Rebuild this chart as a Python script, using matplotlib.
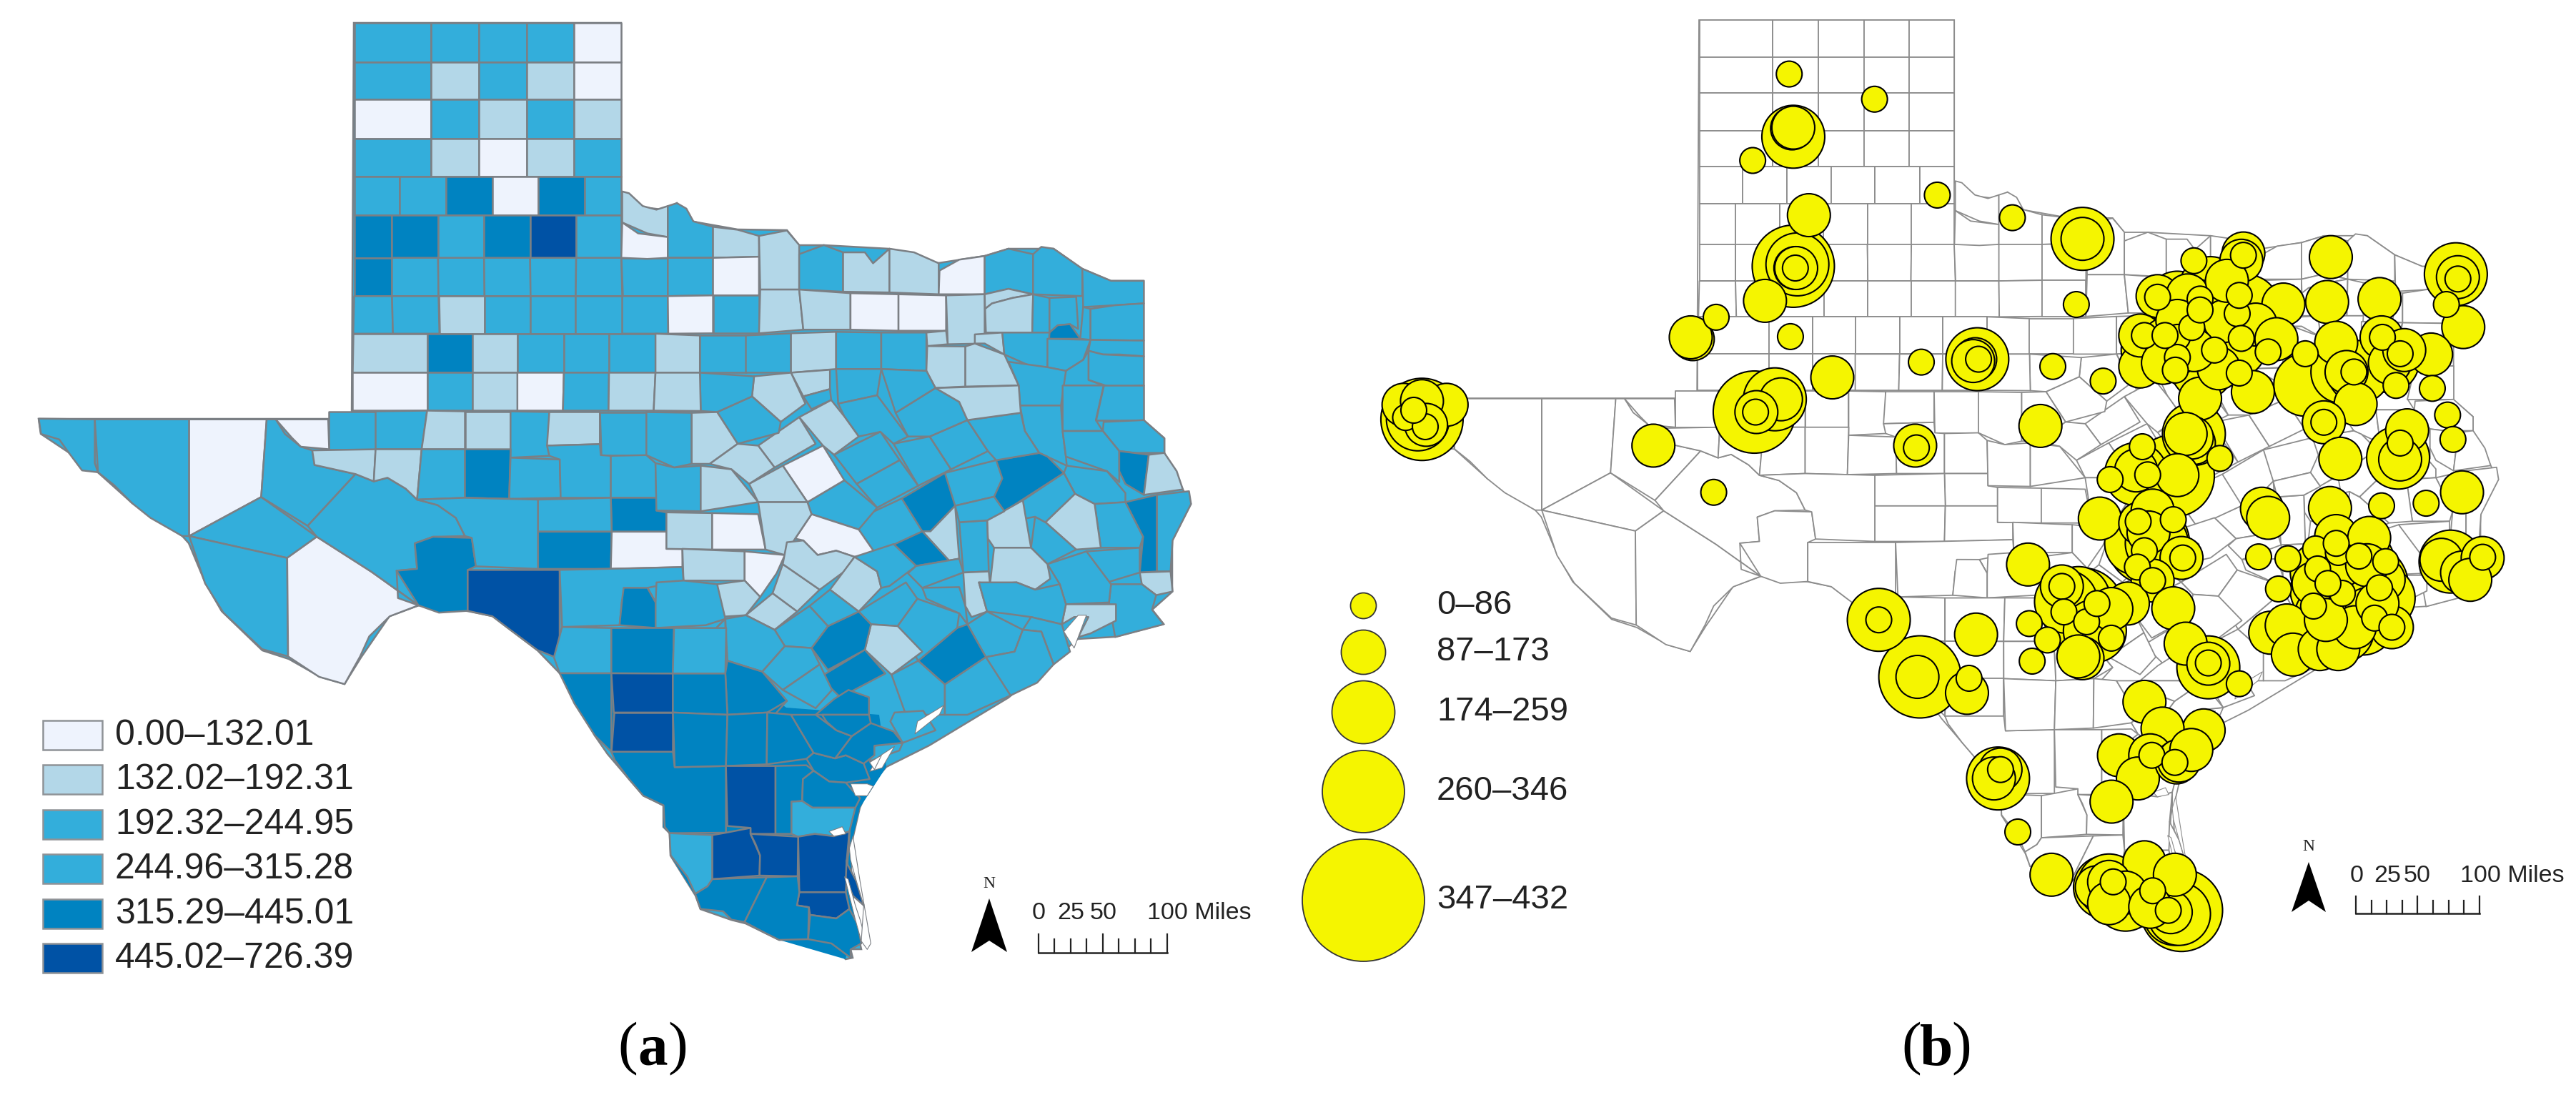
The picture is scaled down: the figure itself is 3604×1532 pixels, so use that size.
"""
Dos mapas de condados de Texas: (a) coropletas y (b) circulos proporcionales.
Las coordenadas de los mapas se leyeron de recortes de la imagen; cada lista
guarda los puntos en el marco de su recorte y FRAMES los lleva a pixeles.
"""
import matplotlib
matplotlib.use('Agg')
import matplotlib.pyplot as plt
from matplotlib.collections import PolyCollection
from matplotlib.patches import Polygon, Rectangle

plt.rcParams['font.family'] = ['Liberation Sans', 'DejaVu Sans']

# clases: 0-5 como en la leyenda
CLASS_COLORS = ['#EEF3FD', '#B3D7E8', '#33AEDB', '#33AEDB', '#0083C1', '#0052A5']
LEGEND_A = ['0.00–132.01', '132.02–192.31', '192.32–244.95',
            '244.96–315.28', '315.29–445.01', '445.02–726.39']
LEGEND_B = ['0–86', '87–173', '174–259', '260–346', '347–432']
LEGEND_B_DIAM = [36, 62, 88, 115, 171]

A, B, C, D = 36, 60, 88, 115

# (ox, oy, sx, sy) de cada recorte
FRAMES = {'z1': (0, 0, 1.568, 1.96), 'z2': (900, 200, 1.742, 1.96),
          'z3': (0, 750, 0.871, 2.005), 'z4': (1800, 0, 1.742, 1.96),
          'z5': (2700, 250, 1.7326, 1.96), 'z6': (1800, 750, 0.869, 2.005),
          'z7': (850, 1000, 3, 3)}

STATE_OUTLINE = [(495, 32), (869, 32), (869, 270), (900, 290), (934, 294), (947, 284), (970, 310),
                 (1032, 321), (1101, 322), (1118, 343), (1153, 343), (1244, 348), (1313, 368),
                 (1378, 358), (1411, 348), (1474, 348), (1514, 376), (1554, 393), (1600, 393),
                 (1600, 588), (1629, 613), (1629, 634), (1655, 685), (1666, 705), (1640, 756),
                 (1640, 828), (1612, 853), (1628, 873), (1560, 891), (1508, 894), (1411, 976),
                 (1300, 1043), (1240, 1073), (1217, 1100), (1203, 1130), (1193, 1173), (1190, 1200),
                 (1195, 1283), (1205, 1328), (1190, 1328), (1193, 1340), (1183, 1342), (1163, 1320),
                 (1133, 1315), (1090, 1315), (1043, 1292), (1023, 1287), (980, 1272), (973, 1253),
                 (938, 1197), (937, 1166), (928, 1157), (928, 1127), (900, 1113), (880, 1090),
                 (850, 1055), (832, 1029), (786, 945), (752, 910),
                 (689, 862), (654, 855), (586, 847), (545, 862), (505, 920), (482, 957), (448, 947),
                 (404, 922), (367, 910), (310, 855), (287, 815), (264, 760), (255, 750), (185, 704),
                 (137, 661), (96, 633), (57, 607), (54, 586), (492, 586)]

# relleno bajo los condados del sur (clase 4)
SOUTH_BASE = [(790, 945), (1016, 930), (1100, 990), (1230, 1000), (1240, 1073), (1203, 1130), (1193, 1173),
              (1190, 1200), (1195, 1283), (1183, 1342), (1090, 1315), (973, 1253), (938, 1197), (937, 1166),
              (928, 1157), (928, 1127), (900, 1113), (880, 1090)]

# filas de rectangulos del Panhandle: y0, y1, bordes x, clases
ROWS_Z1 = [
    (62, 170, [777, 946, 1050, 1155, 1259, 1363], [2, 2, 2, 2, 0]),
    (170, 273, [777, 946, 1050, 1155, 1259, 1363], [2, 1, 2, 1, 0]),
    (273, 380, [777, 946, 1050, 1155, 1259, 1363], [0, 2, 1, 2, 1]),
    (380, 484, [777, 946, 1050, 1155, 1259, 1363], [2, 1, 0, 1, 2]),
    (484, 590, [777, 876, 978, 1080, 1180, 1283, 1363], [2, 2, 4, 0, 4, 2]),
    (590, 707, [777, 860, 961, 1062, 1163, 1264, 1363], [4, 4, 2, 4, 5, 2]),
    (707, 812, [777, 860, 962, 1063, 1164, 1263, 1365, 1465], [4, 2, 2, 2, 2, 2, 2]),
    (812, 915, [775, 862, 964, 1063, 1164, 1263, 1365, 1466], [2, 2, 1, 2, 2, 2, 2]),
    (915, 1022, [773, 937, 1037, 1135, 1237, 1336, 1438], [1, 4, 1, 2, 2, 2]),
    (1022, 1126, [773, 937, 1037, 1135, 1235, 1335, 1434], [0, 2, 1, 0, 2, 1]),
    (1128, 1232, [722, 824, 925, 1020, 1120], [2, 2, 1, 1]),
]

COUNTIES_Z1 = [
    (1, [(1365, 525), (1380, 530), (1410, 565), (1440, 575), (1465, 565), (1465, 650), (1420, 640), (1365, 610)]),
    (0, [(1357, 612), (1400, 640), (1465, 652), (1465, 720), (1420, 710), (1357, 705)]),
    (2, [(85, 1148), (208, 1150), (208, 1270), (215, 1295), (180, 1290), (150, 1240), (130, 1205), (90, 1190)]),
    (2, [(210, 1150), (415, 1150), (415, 1470), (400, 1470), (330, 1420), (290, 1380), (250, 1330), (215, 1295)]),
    (0, [(418, 1150), (585, 1150), (573, 1363), (415, 1465)]),
    (2, [(410, 1475), (573, 1365), (695, 1472), (630, 1530)]),
    (2, [(585, 1150), (605, 1150), (625, 1190), (660, 1225), (685, 1235), (690, 1275), (780, 1300), (675, 1442), (575, 1360)]),
    (0, [(605, 1150), (720, 1150), (720, 1228), (670, 1228), (640, 1200)]),
    (2, [(415, 1480), (630, 1532), (632, 1800), (575, 1780), (490, 1680), (450, 1600)]),
    (0, [(632, 1533), (700, 1475), (815, 1568), (918, 1660), (855, 1690), (810, 1745), (790, 1800), (756, 1876), (700, 1856), (632, 1805)]),
    (2, [(680, 1445), (780, 1305), (820, 1320), (850, 1310), (890, 1340), (915, 1370), (960, 1385), (1000, 1420), (1020, 1470), (950, 1472), (910, 1490), (915, 1560), (870, 1565), (873, 1640), (918, 1660), (815, 1568), (700, 1475)]),
    (4, [(873, 1563), (918, 1563), (918, 1485), (954, 1470), (1035, 1475), (1044, 1553), (1026, 1563), (1026, 1675), (963, 1680), (918, 1660)]),
    (2, [(1120, 1130), (1205, 1130), (1205, 1250), (1120, 1255)]),
    (1, [(1207, 1130), (1316, 1130), (1316, 1218), (1200, 1222)]),
    (2, [(1318, 1130), (1418, 1130), (1418, 1248), (1318, 1248)]),
    (1, [(690, 1235), (828, 1235), (828, 1315), (780, 1298), (695, 1280)]),
    (1, [(832, 1235), (915, 1235), (917, 1365), (880, 1330), (850, 1310), (832, 1318)]),
    (2, [(918, 1235), (1020, 1235), (1020, 1365), (918, 1365)]),
    (4, [(1022, 1235), (1117, 1235), (1117, 1368), (1022, 1368)]),
    (2, [(1120, 1260), (1228, 1260), (1230, 1365), (1120, 1365)]),
    (2, [(1198, 1225), (1318, 1225), (1318, 1250), (1340, 1250), (1340, 1365), (1232, 1365), (1230, 1258), (1198, 1255)]),
    (2, [(1342, 1250), (1420, 1250), (1438, 1270), (1440, 1365), (1342, 1365)]),
    (4, [(1342, 1370), (1440, 1370), (1440, 1400), (1462, 1405), (1462, 1458), (1342, 1458)]),
    (2, [(1180, 1370), (1340, 1370), (1340, 1458), (1180, 1458)]),
    (4, [(1180, 1462), (1340, 1462), (1340, 1560), (1180, 1560)]),
    (0, [(1342, 1462), (1462, 1462), (1462, 1505), (1497, 1505), (1497, 1555), (1342, 1555)]),
    (2, [(1020, 1370), (1178, 1370), (1178, 1560), (1045, 1560), (1045, 1475), (1020, 1470), (1000, 1420), (960, 1390), (920, 1370)]),
]

COUNTIES_Z2 = [
    (2, [(60, 315), (60, 185), (82, 165), (105, 180), (122, 215), (170, 230), (170, 315)]),
    (1, [(172, 312), (172, 232), (230, 238), (282, 255), (282, 312)]),
    (1, [(285, 402), (285, 245), (350, 240), (380, 280), (380, 402)]),
    (2, [(380, 408), (380, 305), (440, 280), (487, 300), (487, 408)]),
    (1, [(487, 410), (487, 315), (540, 300), (560, 330), (600, 290), (600, 410)]),
    (1, [(603, 412), (603, 290), (660, 300), (720, 330), (720, 415)]),
    (0, [(722, 430), (722, 350), (770, 320), (832, 310), (832, 415)]),
    (2, [(835, 400), (835, 310), (890, 290), (950, 305), (950, 415), (890, 400)]),
    (2, [(952, 420), (952, 300), (970, 285), (1000, 290), (1070, 345), (1070, 420)]),
    (2, [(1072, 450), (1072, 350), (1140, 378), (1220, 378), (1220, 440), (1150, 445)]),
    (2, [(60, 315), (170, 315), (170, 418), (60, 418)]),
    (0, [(172, 315), (282, 315), (282, 418), (172, 418)]),
    (0, [(60, 420), (170, 420), (170, 522), (60, 522)]),
    (2, [(172, 420), (282, 420), (282, 522), (172, 522)]),
    (1, [(285, 405), (390, 405), (390, 512), (285, 512)]),
    (1, [(392, 412), (505, 412), (505, 512), (392, 512)]),
    (0, [(505, 415), (622, 415), (622, 515), (505, 515)]),
    (0, [(625, 418), (738, 418), (738, 515), (625, 515)]),
    (1, [(742, 430), (830, 420), (832, 550), (742, 552)]),
    (1, [(833, 455), (833, 405), (880, 400), (948, 420), (900, 425), (850, 440)]),
    (1, [(835, 462), (850, 445), (900, 430), (948, 428), (948, 520), (835, 520)]),
    (2, [(953, 425), (990, 425), (990, 520), (953, 520)]),
    (2, [(990, 422), (1055, 422), (1060, 510), (1040, 497), (1010, 500), (988, 535)]),
    (4, [(985, 537), (988, 510), (1015, 497), (1040, 500), (1065, 537)]),
    (2, [(1060, 440), (1090, 455), (1090, 540), (1065, 537)]),
    (2, [(1092, 455), (1150, 448), (1220, 442), (1220, 542), (1092, 542)]),
    (1, [(30, 528), (138, 528), (138, 630), (30, 630)]),
    (2, [(140, 528), (250, 528), (250, 630), (140, 630)]),
    (2, [(252, 522), (360, 522), (360, 630), (252, 630)]),
    (1, [(362, 518), (470, 518), (470, 620), (362, 620)]),
    (2, [(472, 520), (580, 520), (580, 620), (472, 620)]),
    (2, [(582, 520), (690, 520), (690, 625), (582, 625)]),
    (1, [(692, 520), (738, 520), (738, 555), (692, 557)]),
    (1, [(692, 560), (785, 558), (785, 668), (712, 672), (692, 625)]),
    (1, [(788, 555), (808, 550), (812, 545), (880, 580), (915, 665), (788, 668)]),
    (1, [(808, 525), (875, 520), (878, 578), (840, 565), (812, 545)]),
    (2, [(877, 525), (985, 535), (985, 615), (940, 610), (880, 580)]),
    (2, [(985, 540), (1080, 540), (1072, 595), (1030, 625), (985, 618)]),
    (2, [(1085, 545), (1220, 545), (1220, 585), (1160, 580), (1120, 580), (1085, 570)]),
    (2, [(1085, 575), (1130, 590), (1220, 590), (1220, 665), (1140, 670), (1085, 650)]),
    (2, [(1022, 630), (1072, 600), (1082, 575), (1085, 655), (1122, 665), (1022, 665)]),
    (2, [(890, 600), (985, 618), (1018, 628), (1018, 720), (918, 720), (910, 650)]),
    (2, [(1022, 668), (1120, 668), (1103, 760), (1120, 790), (1022, 790)]),
    (2, [(1122, 668), (1220, 665), (1220, 760), (1105, 760)]),
    (2, [(918, 722), (1018, 725), (1022, 790), (1030, 860), (1032, 885), (965, 850), (930, 790)]),
    (2, [(1122, 765), (1222, 760), (1270, 810), (1270, 850), (1200, 850), (1160, 845), (1130, 790)]),
    (2, [(1030, 795), (1128, 793), (1160, 850), (1160, 930), (1130, 900), (1035, 875)]),
    (4, [(1160, 845), (1232, 855), (1220, 965), (1175, 935), (1160, 900)]),
    (1, [(1238, 855), (1270, 855), (1300, 900), (1315, 950), (1225, 955)]),
    (4, [(1175, 985), (1252, 965), (1252, 1175), (1210, 1178), (1218, 1080)]),
    (2, [(1255, 958), (1330, 955), (1335, 990), (1290, 1090), (1285, 1175), (1255, 1178)]),
    (2, [(1025, 885), (1130, 910), (1175, 960), (1180, 975), (1100, 990), (1052, 962), (1025, 905)]),
    (2, [(1090, 990), (1175, 985), (1215, 1080), (1210, 1110), (1115, 1110)]),
    (2, [(1080, 1120), (1208, 1112), (1205, 1178), (1110, 1212)]),
    (1, [(1210, 1180), (1290, 1180), (1290, 1230), (1250, 1240), (1215, 1210)]),
    (2, [(1140, 1210), (1205, 1195), (1250, 1245), (1240, 1280), (1268, 1320), (1150, 1355), (1135, 1260)]),
    (2, [(985, 1155), (1075, 1120), (1135, 1210), (1133, 1262), (1030, 1265), (1015, 1210)]),
    (1, [(1030, 1268), (1152, 1265), (1152, 1310), (1090, 1345), (1060, 1355), (1085, 1300), (1050, 1300), (1020, 1320)]),
    (1, [(980, 1040), (1050, 965), (1095, 990), (1112, 1115), (1055, 1115), (1010, 1070)]),
    (2, [(955, 1025), (975, 1050), (1010, 1080), (1050, 1110), (985, 1155), (945, 1110)]),
    (2, [(925, 980), (1022, 905), (1048, 960), (975, 1040), (955, 1020), (930, 1030)]),
    (4, [(860, 870), (960, 855), (985, 860), (1022, 905), (880, 1010), (855, 970)]),
    (1, [(838, 1035), (925, 990), (945, 1110), (855, 1110), (840, 1085)]),
    (1, [(845, 1095), (860, 1110), (945, 1115), (980, 1150), (992, 1195), (955, 1225), (910, 1205), (845, 1210)]),
    (2, [(770, 1040), (835, 1032), (842, 1175), (780, 1178)]),
    (2, [(735, 905), (855, 855), (875, 920), (860, 975), (760, 995), (745, 960)]),
    (2, [(760, 1000), (860, 975), (880, 1010), (838, 1030), (770, 1035)]),
    (4, [(630, 975), (735, 920), (748, 990), (700, 1065), (680, 1065), (642, 1020)]),
    (1, [(700, 1065), (750, 1010), (770, 1140), (745, 1145), (680, 1080)]),
    (4, [(610, 1100), (670, 1065), (740, 1145), (665, 1160)]),
    (2, [(525, 1030), (630, 980), (668, 1055), (565, 1125), (525, 1060)]),
    (2, [(400, 985), (490, 925), (570, 1000), (523, 1050), (410, 1018)]),
    (0, [(370, 1085), (410, 1022), (525, 1055), (552, 1125), (515, 1135), (470, 1118), (425, 1130), (390, 1090)]),
    (0, [(340, 885), (438, 830), (495, 915), (398, 975)]),
    (2, [(465, 855), (578, 792), (625, 870), (520, 935)]),
    (2, [(530, 935), (628, 875), (670, 940), (572, 995)]),
    (2, [(610, 825), (698, 805), (750, 895), (672, 940)]),
    (2, [(700, 805), (790, 760), (840, 845), (750, 895)]),
    (2, [(800, 755), (920, 740), (930, 800), (960, 855), (860, 865), (845, 845)]),
    (2, [(615, 740), (712, 682), (770, 710), (790, 755), (700, 800), (645, 805)]),
    (2, [(572, 628), (690, 628), (712, 680), (608, 740)]),
    (2, [(458, 630), (570, 628), (570, 692), (475, 715)]),
    (2, [(485, 720), (572, 695), (645, 805), (610, 820), (580, 790), (525, 805), (490, 750)]),
    (1, [(725, 672), (915, 668), (918, 738), (795, 750), (770, 710)]),
    (1, [(362, 625), (455, 622), (455, 675), (390, 695)]),
    (2, [(390, 695), (455, 680), (458, 705), (410, 730)]),
    (1, [(270, 640), (360, 635), (395, 715), (335, 765), (265, 695)]),
    (1, [(380, 752), (458, 708), (490, 750), (525, 805), (465, 850), (435, 830)]),
    (1, [(280, 830), (378, 755), (420, 825), (320, 890)]),
    (2, [(180, 738), (262, 695), (335, 765), (330, 795), (230, 825)]),
    (2, [(140, 635), (270, 635), (270, 690), (180, 735), (140, 735)]),
    (1, [(28, 635), (135, 635), (135, 735), (28, 735)]),
    (2, [(10, 740), (118, 740), (118, 880), (75, 890), (10, 860)]),
    (1, [(120, 740), (180, 740), (225, 825), (162, 880), (120, 880)]),
    (1, [(160, 880), (225, 825), (280, 830), (315, 893), (258, 935), (215, 895)]),
    (1, [(258, 935), (340, 890), (395, 980), (280, 985)]),
    (2, [(32, 885), (75, 893), (140, 885), (140, 1010), (32, 1010)]),
    (1, [(142, 885), (215, 900), (280, 985), (142, 1015)]),
    (1, [(58, 1015), (168, 1015), (168, 1115), (58, 1115)]),
    (0, [(170, 1020), (280, 1018), (298, 1115), (170, 1115)]),
    (1, [(285, 990), (395, 988), (405, 1020), (365, 1085), (345, 1130), (298, 1115)]),
    (1, [(98, 1120), (247, 1120), (247, 1200), (98, 1200)]),
    (0, [(250, 1120), (340, 1130), (325, 1180), (285, 1245), (250, 1200)]),
    (1, [(340, 1155), (430, 1225), (375, 1285), (315, 1235)]),
    (1, [(350, 1095), (390, 1095), (425, 1130), (470, 1120), (505, 1140), (490, 1175), (440, 1225), (345, 1155)]),
    (1, [(510, 1145), (570, 1175), (580, 1220), (525, 1285), (455, 1225)]),
    (2, [(520, 1135), (605, 1105), (655, 1160), (600, 1215), (580, 1220), (575, 1170)]),
    (2, [(660, 1165), (770, 1145), (782, 1185), (680, 1220), (645, 1180)]),
    (2, [(530, 1285), (640, 1205), (668, 1250), (620, 1325), (555, 1320)]),
    (2, [(678, 1225), (770, 1218), (785, 1270), (790, 1320), (770, 1290), (690, 1250)]),
    (1, [(770, 1190), (842, 1180), (842, 1210), (818, 1205), (838, 1285), (800, 1300), (780, 1260)]),
    (2, [(815, 1205), (910, 1205), (955, 1225), (1005, 1205), (1030, 1270), (1020, 1320), (945, 1300), (880, 1290), (840, 1285)]),
    (2, [(800, 1305), (838, 1290), (925, 1335), (905, 1395), (835, 1410), (790, 1330)]),
    (2, [(925, 1335), (950, 1310), (1020, 1330), (1040, 1395), (1000, 1430), (970, 1340)]),
    (2, [(835, 1415), (905, 1395), (935, 1345), (975, 1345), (1000, 1430), (960, 1480), (895, 1515), (845, 1450)]),
    (4, [(765, 1330), (790, 1330), (830, 1420), (735, 1485), (670, 1420)]),
    (2, [(620, 1330), (670, 1250), (770, 1290), (765, 1330), (670, 1410)]),
    (1, [(545, 1330), (615, 1330), (680, 1395), (605, 1458), (540, 1390)]),
    (4, [(450, 1325), (520, 1295), (555, 1325), (540, 1385), (450, 1445), (410, 1385)]),
    (2, [(405, 1270), (450, 1230), (520, 1290), (450, 1320)]),
    (2, [(320, 1335), (395, 1280), (445, 1325), (405, 1385), (345, 1380)]),
    (1, [(250, 1295), (310, 1235), (370, 1290), (320, 1330)]),
    (1, [(180, 1210), (250, 1205), (285, 1250), (240, 1300), (180, 1300)]),
    (2, [(0, 1175), (95, 1200), (175, 1210), (175, 1280), (100, 1260), (30, 1260), (10, 1220)]),
    (2, [(30, 1265), (100, 1265), (200, 1305), (165, 1345), (160, 1330), (75, 1330), (30, 1330)]),
    (4, [(0, 1225), (30, 1260), (30, 1330), (0, 1330)]),
    (4, [(0, 1335), (72, 1335), (72, 1455), (0, 1455)]),
    (2, [(75, 1335), (160, 1335), (200, 1310), (200, 1455), (75, 1455)]),
    (2, [(205, 1310), (250, 1300), (320, 1335), (345, 1380), (290, 1450), (205, 1420)]),
    (2, [(290, 1455), (345, 1385), (405, 1390), (430, 1430), (340, 1500)]),
    (4, [(430, 1465), (535, 1390), (590, 1455), (480, 1520)]),
    (2, [(340, 1505), (425, 1435), (460, 1500), (420, 1550)]),
    (4, [(205, 1425), (290, 1455), (350, 1530), (320, 1568), (205, 1568)]),
    (2, [(610, 1455), (660, 1425), (735, 1485), (735, 1568), (640, 1568)]),
    (2, [(735, 1485), (835, 1425), (890, 1520), (790, 1568), (735, 1568)]),
    (4, [(465, 1525), (500, 1500), (550, 1520), (550, 1568), (420, 1568)]),
]

COUNTIES_Z3 = [
    (5, [(570, 95), (682, 95), (682, 345), (655, 320), (620, 260), (600, 225), (570, 210)]),
    (2, [(685, 95), (830, 95), (830, 125), (795, 130), (795, 170), (758, 180), (755, 250), (685, 255)]),
    (4, [(760, 145), (785, 145), (795, 185), (795, 250), (755, 250), (758, 180)]),
    (2, [(800, 130), (830, 130), (875, 130), (885, 230), (860, 250), (795, 250), (800, 190)]),
    (2, [(685, 258), (745, 258), (745, 385), (682, 385), (675, 340)]),
    (4, [(748, 258), (820, 258), (820, 385), (748, 385)]),
    (2, [(822, 258), (885, 258), (885, 385), (822, 385)]),
    (4, [(887, 357), (930, 395), (965, 470), (935, 495), (887, 495), (887, 390)]),
    (4, [(685, 390), (745, 390), (745, 605), (725, 560), (700, 470)]),
    (5, [(748, 390), (820, 390), (820, 495), (748, 495)]),
    (5, [(748, 498), (820, 498), (820, 605), (748, 605)]),
    (4, [(822, 390), (885, 390), (885, 495), (822, 495)]),
    (2, [(1090, 495), (1125, 490), (1140, 545), (1100, 580), (1085, 520)]),
]

COUNTIES_Z7 = [
    (4, [(0, 165), (275, 160), (282, 220), (497, 215), (497, 495), (260, 497), (240, 470), (235, 380), (150, 340), (90, 270), (30, 190)]),
    (4, [(282, 0), (497, 0), (497, 212), (282, 218)]),
    (4, [(502, 0), (668, 0), (668, 208), (502, 208)]),
    (4, [(675, 0), (770, 0), (865, 160), (835, 185), (835, 208), (675, 208)]),
    (5, [(503, 215), (705, 215), (705, 500), (600, 500), (600, 475), (503, 467)]),
    (4, [(712, 215), (835, 212), (865, 235), (820, 270), (817, 362), (772, 365), (772, 500), (712, 500)]),
    (4, [(840, 185), (870, 165), (955, 183), (1000, 170), (1075, 205), (1100, 270), (1090, 292), (1000, 285), (930, 280), (860, 245), (870, 225)]),
    (4, [(825, 265), (855, 250), (925, 280), (985, 290), (1030, 320), (1060, 350), (1040, 390), (860, 390), (820, 360)]),
    (2, [(778, 368), (815, 365), (855, 390), (1035, 395), (1015, 490), (950, 510), (870, 500), (800, 512), (778, 500)]),
    (2, [(1120, 130), (1230, 115), (1225, 150), (1100, 195)]),
    (4, [(965, 180), (1025, 90), (1105, 35), (1200, 70), (1235, 110), (1120, 130), (1120, 170), (1080, 205), (1000, 170)]),
    (4, [(770, 0), (890, 0), (960, 65), (1020, 85), (955, 180), (870, 165)]),
    (4, [(900, 0), (1100, 0), (1100, 25), (1020, 80), (960, 60), (920, 30)]),
    (5, [(808, 515), (870, 500), (950, 510), (1003, 508), (1000, 745), (805, 745)]),
    (5, [(1003, 620), (1020, 610), (1045, 700), (1075, 800), (1065, 810), (1030, 760), (1000, 690)]),
    (5, [(1005, 510), (1030, 510), (1015, 560), (1005, 600)]),
    (5, [(808, 750), (1003, 748), (1015, 815), (960, 855), (850, 840), (845, 808), (795, 800)]),
    (2, [(268, 500), (440, 505), (440, 690), (420, 720), (368, 752), (335, 680), (265, 590)]),
    (5, [(445, 505), (510, 475), (595, 475), (610, 520), (640, 590), (638, 675), (445, 675)]),
    (5, [(620, 505), (800, 508), (798, 678), (642, 675), (640, 585), (620, 540)]),
    (4, [(445, 682), (668, 682), (575, 870), (520, 860), (485, 825), (390, 815), (368, 760), (420, 725)]),
    (4, [(678, 682), (798, 682), (805, 745), (795, 800), (845, 810), (842, 942), (720, 945), (660, 915), (585, 875)]),
    (4, [(850, 845), (965, 860), (1015, 825), (1050, 880), (1065, 960), (1020, 985), (1020, 1020), (1000, 1025), (940, 960), (850, 945)]),
]

BAYS_Z2 = [[(1060, 1295), (1080, 1295), (1050, 1385), (1025, 1340)]]
BAYS_Z3 = [[(1118, 520), (1150, 475), (1145, 500), (1115, 555)],
           [(1070, 620), (1090, 590), (1075, 650), (1060, 660)]]
BAYS_Z7 = [[(1020, 290), (1090, 290), (1115, 300), (1090, 340), (1040, 340)],
           [(995, 680), (1010, 690), (1040, 800), (1060, 860), (1085, 950), (1065, 950), (1040, 860)],
           [(1030, 510), (1060, 700), (1105, 960), (1090, 985), (1065, 950), (1075, 800), (1045, 700), (1020, 610), (1015, 560)],
           [(930, 490), (985, 470), (1000, 500), (950, 510)],
           [(1100, 200), (1150, 170), (1120, 230)]]

# circulos (x, y, diametro en pixeles), leidos por recorte
CIRCLES_Z4 = [(1225, 203, A), (1433, 272, A), (1136, 440, A), (1235, 375, C), (1232, 352, B), (1235, 350, B),
              (1273, 590, B), (1235, 730, D), (1245, 725, C), (1240, 735, B), (1242, 735, B), (1240, 735, A),
              (1166, 825, B), (1047, 870, A), (990, 930, B), (985, 925, B), (1228, 923, A), (1330, 1035, B),
              (1547, 993, A), (894, 1222, B), (1041, 1350, A),
              (1140, 1130, D), (1190, 1095, C), (1205, 1095, B), (1145, 1130, B), (1143, 1130, A),
              (1532, 1222, B), (1535, 1228, A),
              (330, 1150, D), (285, 1110, B), (390, 1110, B), (330, 1100, B), (290, 1145, A), (338, 1170, A),
              (310, 1125, A), (340, 1165, B), (320, 1150, C)]

CIRCLES_Z5 = [(18, 45, A), (200, 107, A), (370, 165, C), (370, 165, B), (355, 345, A), (115, 495, C), (110, 495, B),
              (118, 495, A), (105, 500, B), (298, 515, A), (420, 555, A), (268, 678, B),
              (552, 322, B), (552, 325, A), (640, 225, A), (760, 205, B), (755, 225, B), (760, 210, A), (972, 215, B),
              (857, 345, B), (963, 338, B), (1090, 330, B), (1275, 262, C), (1280, 270, B), (1280, 275, A),
              (1252, 345, A), (1293, 407, B), (985, 450, B), (1095, 435, B), (1097, 435, A), (1140, 480, A),
              (1215, 482, B), (1130, 567, A), (1218, 575, A), (1115, 505, B), (1150, 470, B),
              (910, 480, A), (910, 565, C), (1028, 530, A), (1010, 530, B), (1032, 618, B), (955, 668, B), (955, 668, A),
              (783, 585, B), (655, 603, B), (750, 533, A), (820, 475, A),
              (510, 515, B), (510, 430, B), (520, 430, A), (600, 435, A), (635, 408, A), (745, 370, A), (755, 438, A),
              (690, 470, A), (600, 490, A), (595, 525, A), (650, 335, B), (655, 330, A), (625, 320, B), (720, 320, B),
              (700, 350, B), (750, 320, A), (655, 360, A), (715, 390, B), (600, 480, B), (570, 440, B), (570, 430, A),
              (690, 420, C), (660, 430, C), (700, 440, D), (730, 370, C), (600, 390, B), (700, 520, B), (790, 400, B),
              (840, 440, B), (640, 470, B), (565, 505, B), (720, 280, B),
              (650, 470, D), (720, 400, D), (600, 420, C), (620, 450, C), (720, 450, C), (660, 520, C), (770, 350, C),
              (600, 340, C), (540, 470, C), (740, 460, C), (680, 300, C), (1110, 500, C), (1000, 530, C), (1040, 530, C),
              (640, 725, B), (640, 700, C), (635, 710, B), (620, 700, B), (703, 767, A), (515, 735, A), (437, 825, A),
              (528, 812, A), (500, 800, B), (500, 810, C), (600, 813, B), (590, 815, D), (412, 932, B),
              (510, 945, B), (505, 940, A), (540, 910, B), (590, 935, A), (530, 970, B), (500, 1000, C), (550, 1000, C),
              (530, 1000, D), (610, 1040, B), (613, 1040, A), (520, 1020, A), (503, 1065, A), (540, 1102, B), (540, 1102, A),
              (480, 1165, B), (590, 1178, B), (238, 1058, B), (797, 1037, A), (868, 1042, A), (845, 1125, A),
              (805, 905, B), (820, 930, B), (970, 903, B), (985, 980, B), (1065, 985, B), (1095, 897, A), (1203, 890, A),
              (1290, 860, B), (995, 768, B), (1255, 648, A), (1268, 715, A), (1157, 690, B), (1135, 765, C), (1140, 770, B),
              (1140, 725, A),
              (825, 1245, B), (865, 1225, B), (880, 1305, B), (945, 1290, B), (990, 1290, B), (1120, 1230, B),
              (930, 1172, A), (1000, 1137, A), (1090, 1122, A), (1078, 1205, A), (935, 1015, A), (990, 1025, A),
              (1040, 1035, A), (940, 1070, A), (1105, 1050, A), (965, 1110, A), (1120, 1230, A), (1020, 1110, C),
              (1000, 1180, C), (950, 1130, C), (1080, 1120, C), (1060, 1180, B), (1100, 1100, B), (930, 1110, B),
              (985, 1000, A), (1000, 1060, B), (1060, 1060, B), (1030, 1230, B), (960, 1210, B), (1085, 1165, B),
              (1060, 1115, D), (1000, 1100, C), (960, 1200, C), (1050, 1220, C), (1100, 1150, C), (1000, 1240, C),
              (950, 1080, C), (1050, 1050, C),
              (1262, 1050, C), (1240, 1045, B), (1290, 1080, B), (1340, 1040, B), (1340, 1038, A), (1310, 1100, B),
              (370, 1180, D), (370, 1170, C), (360, 1150, C), (330, 1160, C), (320, 1118, B), (320, 1118, A), (325, 1188, A),
              (380, 1215, A), (405, 1165, A), (370, 1315, B), (360, 1310, B), (440, 1260, A), (440, 1180, B),
              (400, 1240, C), (241, 1220, A), (285, 1265, A), (248, 1323, A), (112, 1250, B), (95, 1370, A), (90, 1410, B),
              (620, 1275, B), (675, 1340, C), (675, 1330, B), (675, 1328, A), (750, 1385, A)]

CIRCLES_Z6 = [(720, 235, C), (720, 235, A), (770, 395, D), (767, 395, B), (1043, 465, B), (1115, 545, B), (1065, 540, B),
              (1012, 615, B), (1050, 615, B), (1052, 615, A), (1035, 680, B), (1082, 635, B), (1080, 635, A),
              (1085, 630, B), (1003, 745, B), (1100, 600, B),
              (865, 680, C), (868, 655, B), (868, 655, A), (860, 680, B), (889, 830, A),
              (930, 950, B), (1043, 915, B), (985, 985, B), (1000, 970, B), (1005, 970, A), (995, 985, C), (1015, 1000, C),
              (1020, 1020, C), (1000, 980, C),
              (1053, 995, A), (1072, 1050, A), (1075, 1055, B), (1080, 1060, C), (1085, 1060, C), (1088, 1050, D),
              (1080, 950, B), (1020, 1000, B), (1000, 1030, B), (1050, 1040, B)]

GRAY = '#7b7f84'
YELLOW = '#F5F500'
# paso del panel (a) al panel (b)
B_SCALE = 0.955


def a_frame(name, pts):
    ox, oy, sx, sy = FRAMES[name]
    return [(ox + x / sx, oy + y / sy) for x, y in pts]


def a_panel_b(pts):
    return [(2377.5 + (x - 495.5) * B_SCALE, 28 + (y - 32) * B_SCALE) for x, y in pts]


def juntar_vertices(poligonos, tol=8):
    # vertices leidos por separado: los casi iguales pasan a ser el mismo
    grupos = []
    salida = []
    for pts in poligonos:
        nuevo = []
        for x, y in pts:
            for g in grupos:
                if abs(g[0] - x) < tol and abs(g[1] - y) < tol:
                    break
            else:
                g = (x, y)
                grupos.append(g)
            nuevo.append(g)
        salida.append(nuevo)
    return salida


counties = []
for y0, y1, xs, classes in ROWS_Z1:
    for i, k in enumerate(classes):
        counties.append((k, a_frame('z1', [(xs[i], y0), (xs[i + 1], y0), (xs[i + 1], y1), (xs[i], y1)])))
for name, group in [('z1', COUNTIES_Z1), ('z2', COUNTIES_Z2), ('z3', COUNTIES_Z3), ('z7', COUNTIES_Z7)]:
    counties += [(k, a_frame(name, pts)) for k, pts in group]
county_polys = juntar_vertices([p for _, p in counties])
county_colors = [CLASS_COLORS[k] for k, _ in counties]
bays = [a_frame('z2', p) for p in BAYS_Z2] + [a_frame('z3', p) for p in BAYS_Z3] + [a_frame('z7', p) for p in BAYS_Z7]

fig = plt.figure(figsize=(36.05, 15.32), dpi=100)
ax = fig.add_axes([0, 0, 1, 1])
ax.set_xlim(0, 3605)
ax.set_ylim(1532, 0)
ax.axis('off')

# --- Panel (a) ---
ax.add_patch(Polygon(STATE_OUTLINE, closed=True, fc=CLASS_COLORS[2], ec=GRAY, lw=1.8, zorder=1))
ax.add_patch(Polygon(SOUTH_BASE, closed=True, fc=CLASS_COLORS[4], ec='none', zorder=1.5))
ax.add_collection(PolyCollection(county_polys, facecolors=county_colors, edgecolors=GRAY, linewidths=1.8, zorder=2))
ax.add_collection(PolyCollection(bays, facecolors='white', edgecolors=GRAY, linewidths=0.8, zorder=3))

# --- Panel (b) ---
ax.add_patch(Polygon(a_panel_b(STATE_OUTLINE), closed=True, fc='white', ec='#8c8c8c', lw=1.3, zorder=1))
ax.add_collection(PolyCollection([a_panel_b(p) for p in county_polys], facecolors='white',
                                 edgecolors='#8c8c8c', linewidths=1.3, zorder=2))
ax.add_collection(PolyCollection([a_panel_b(p) for p in bays], facecolors='white',
                                 edgecolors='#8c8c8c', linewidths=0.8, zorder=3))

circles = []
for name, group in [('z4', CIRCLES_Z4), ('z5', CIRCLES_Z5), ('z6', CIRCLES_Z6)]:
    for x, y, d in group:
        circles.append((*a_frame(name, [(x, y)])[0], d))
circles.sort(key=lambda c: -c[2])
ax.scatter([c[0] for c in circles], [c[1] for c in circles], s=[(c[2] * 0.72) ** 2 for c in circles],
           c=YELLOW, edgecolors='black', linewidths=1.5, zorder=4)

# --- Leyenda (a) ---
for i, etiqueta in enumerate(LEGEND_A):
    y = 1008 + i * 62.4
    ax.add_patch(Rectangle((60, y), 83, 41, fc=CLASS_COLORS[i], ec='#8f9397', lw=1.8, zorder=5))
    ax.text(161, y + 21, etiqueta, fontsize=36, va='center', ha='left', color='#222222')

# --- Leyenda (b) ---
for etiqueta, d, y in zip(LEGEND_B, LEGEND_B_DIAM, [847, 912, 996, 1107, 1259]):
    ax.scatter([1907], [y], s=(d * 0.72) ** 2, c=YELLOW, edgecolors='#333333', linewidths=1.3, zorder=5)
    ax.text(2010, y, etiqueta, fontsize=34, va='center', ha='left', color='#222222')


def escala(x0, x1, base, tope, xn, yn, ax0, ax1, ay0, ay1, xs_txt, y_txt):
    # flecha de norte y barra de escala
    axm = (ax0 + ax1) / 2
    ax.add_patch(Polygon([(axm, ay0), (ax1, ay1), (axm, ay1 - 16), (ax0, ay1)], closed=True, fc='black', ec='none', zorder=5))
    ax.text(xn, yn, 'N', fontsize=17, ha='center', va='center', family='Liberation Serif', color='#222222')
    ax.plot([x0, x1], [base, base], color='#222222', lw=1.8, zorder=5)
    for i in range(9):
        x = x0 + (x1 - x0) * i / 8
        alto = tope if i % 4 == 0 else base - (base - tope) * 0.75
        ax.plot([x, x], [base, alto], color='#222222', lw=1.6, zorder=5)
    for txt, x in zip(['0', '25', '50', '100 Miles'], xs_txt):
        ax.text(x, y_txt, txt, fontsize=24.5, ha='left', va='center', color='#222222')


escala(1453, 1633, 1333, 1307, 1384, 1236, 1359, 1409, 1257, 1332, [1444, 1479, 1525, 1605], 1278)
escala(3296, 3469, 1278, 1254, 3230, 1184, 3206, 3254, 1206, 1276, [3288, 3321, 3363, 3442], 1225)

# --- Rotulos ---
for x, letra in [(913, 'a'), (2709, 'b')]:
    ax.text(x - 21, 1468, '(', fontsize=60, ha='right', va='center', family='Liberation Serif')
    ax.text(x, 1470, letra, fontsize=60, ha='center', va='center', family='Liberation Serif', fontweight='bold')
    ax.text(x + 21, 1468, ')', fontsize=60, ha='left', va='center', family='Liberation Serif')

fig.savefig('out.png', dpi=100, facecolor='white')
plt.close(fig)
